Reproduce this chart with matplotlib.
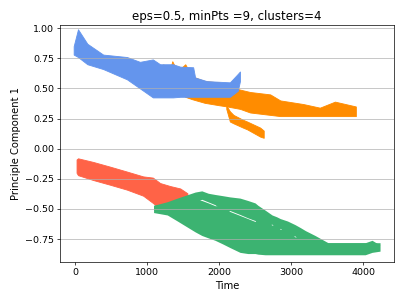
import matplotlib
matplotlib.use("Agg")
import matplotlib.pyplot as plt

# cluster bands (time, upper edge, lower edge)
blue_t = [-20, 40, 170, 390, 720, 900, 1080, 1180, 1360, 1460, 1640, 1667, 1830, 2150, 2260, 2290]
blue_hi = [0.85, 0.99, 0.87, 0.78, 0.76, 0.72, 0.74, 0.70, 0.70, 0.68, 0.675, 0.59, 0.56, 0.55, 0.62, 0.64]
blue_lo = [0.78, 0.76, 0.70, 0.66, 0.575, 0.50, 0.425, 0.425, 0.425, 0.43, 0.43, 0.43, 0.43, 0.43, 0.48, 0.56]

orange_t = [1225, 1300, 1350, 1420, 1530, 1625, 1800, 2000, 2110, 2290, 2430, 2710, 2850, 3170, 3400, 3610, 3900]
orange_hi = [0.70, 0.62, 0.725, 0.64, 0.70, 0.60, 0.56, 0.55, 0.52, 0.49, 0.47, 0.45, 0.40, 0.37, 0.34, 0.39, 0.35]
orange_lo = [0.62, 0.55, 0.55, 0.50, 0.43, 0.41, 0.38, 0.36, 0.35, 0.33, 0.30, 0.28, 0.27, 0.27, 0.27, 0.27, 0.27]

branch_t = [2100, 2150, 2200, 2330, 2390, 2570, 2620]
branch_hi = [0.36, 0.31, 0.28, 0.24, 0.225, 0.175, 0.15]
branch_lo = [0.33, 0.225, 0.21, 0.175, 0.16, 0.10, 0.09]

red_t = [20, 40, 250, 490, 720, 945, 1080, 1180, 1320, 1460, 1560]
red_hi = [-0.09, -0.08, -0.11, -0.15, -0.19, -0.23, -0.24, -0.285, -0.31, -0.33, -0.37]
red_lo = [-0.20, -0.22, -0.26, -0.30, -0.34, -0.39, -0.45, -0.50, -0.48, -0.45, -0.44]

# green is split in two by a thin, broken white seam
green_t = [1090, 1280, 1420, 1667, 1760, 1850, 1944, 2050, 2150, 2290, 2400, 2500, 2540, 2640,
           2736, 2800, 2850, 2950, 3055, 3130, 3200, 3333, 3514, 3800, 4030, 4125, 4236]
green_hi = [-0.47, -0.44, -0.41, -0.36, -0.35, -0.37, -0.38, -0.39, -0.40, -0.41, -0.43, -0.45, -0.47, -0.51,
            -0.55, -0.565, -0.58, -0.60, -0.63, -0.655, -0.68, -0.72, -0.78, -0.78, -0.78, -0.76, -0.80]
green_seam_hi = [-0.51, -0.50, -0.52, -0.45, -0.420, -0.442, -0.465, -0.514, -0.513, -0.546, -0.574, -0.596, -0.63, -0.64,
                 -0.626, -0.67, -0.661, -0.715, -0.724, -0.77, -0.78, -0.80, -0.80, -0.80, -0.80, -0.80, -0.80]
green_seam_lo = [-0.47, -0.46, -0.45, -0.43, -0.430, -0.450, -0.473, -0.474, -0.521, -0.554, -0.580, -0.604, -0.59, -0.60,
                 -0.634, -0.63, -0.669, -0.675, -0.732, -0.73, -0.74, -0.78, -0.78, -0.78, -0.78, -0.78, -0.78]
green_lo = [-0.53, -0.55, -0.60, -0.69, -0.72, -0.74, -0.76, -0.79, -0.82, -0.86, -0.87, -0.87, -0.875, -0.88,
            -0.88, -0.88, -0.88, -0.88, -0.88, -0.88, -0.88, -0.88, -0.88, -0.88, -0.88, -0.86, -0.85]

fig = plt.figure(figsize=(6.4, 4.848), dpi=62.5)
ax = fig.add_axes([0.15, 0.1353, 0.835, 0.782])

ax.fill_between(orange_t, orange_lo, orange_hi, color='darkorange', lw=1)
ax.fill_between(branch_t, branch_lo, branch_hi, color='darkorange', lw=1)
ax.fill_between(blue_t, blue_lo, blue_hi, color='cornflowerblue', lw=1)
ax.fill_between(red_t, red_lo, red_hi, color='tomato', lw=1)
ax.fill_between(green_t, green_seam_hi, green_hi, color='mediumseagreen', lw=0)
ax.fill_between(green_t, green_lo, green_seam_lo, color='mediumseagreen', lw=0)

ax.set_xlim(-210, 4430)
ax.set_ylim(-0.94, 1.025)
ax.set_yticks([-0.75, -0.5, -0.25, 0, 0.25, 0.5, 0.75, 1.0])
ax.tick_params(labelsize=11)
ax.grid(axis='y')
ax.set_title('eps=0.5, minPts =9, clusters=4', fontsize=13.5)
ax.set_xlabel('Time', fontsize=11.5)
ax.set_ylabel('Principle Component 1', fontsize=11.5)

plt.savefig('out.png')
